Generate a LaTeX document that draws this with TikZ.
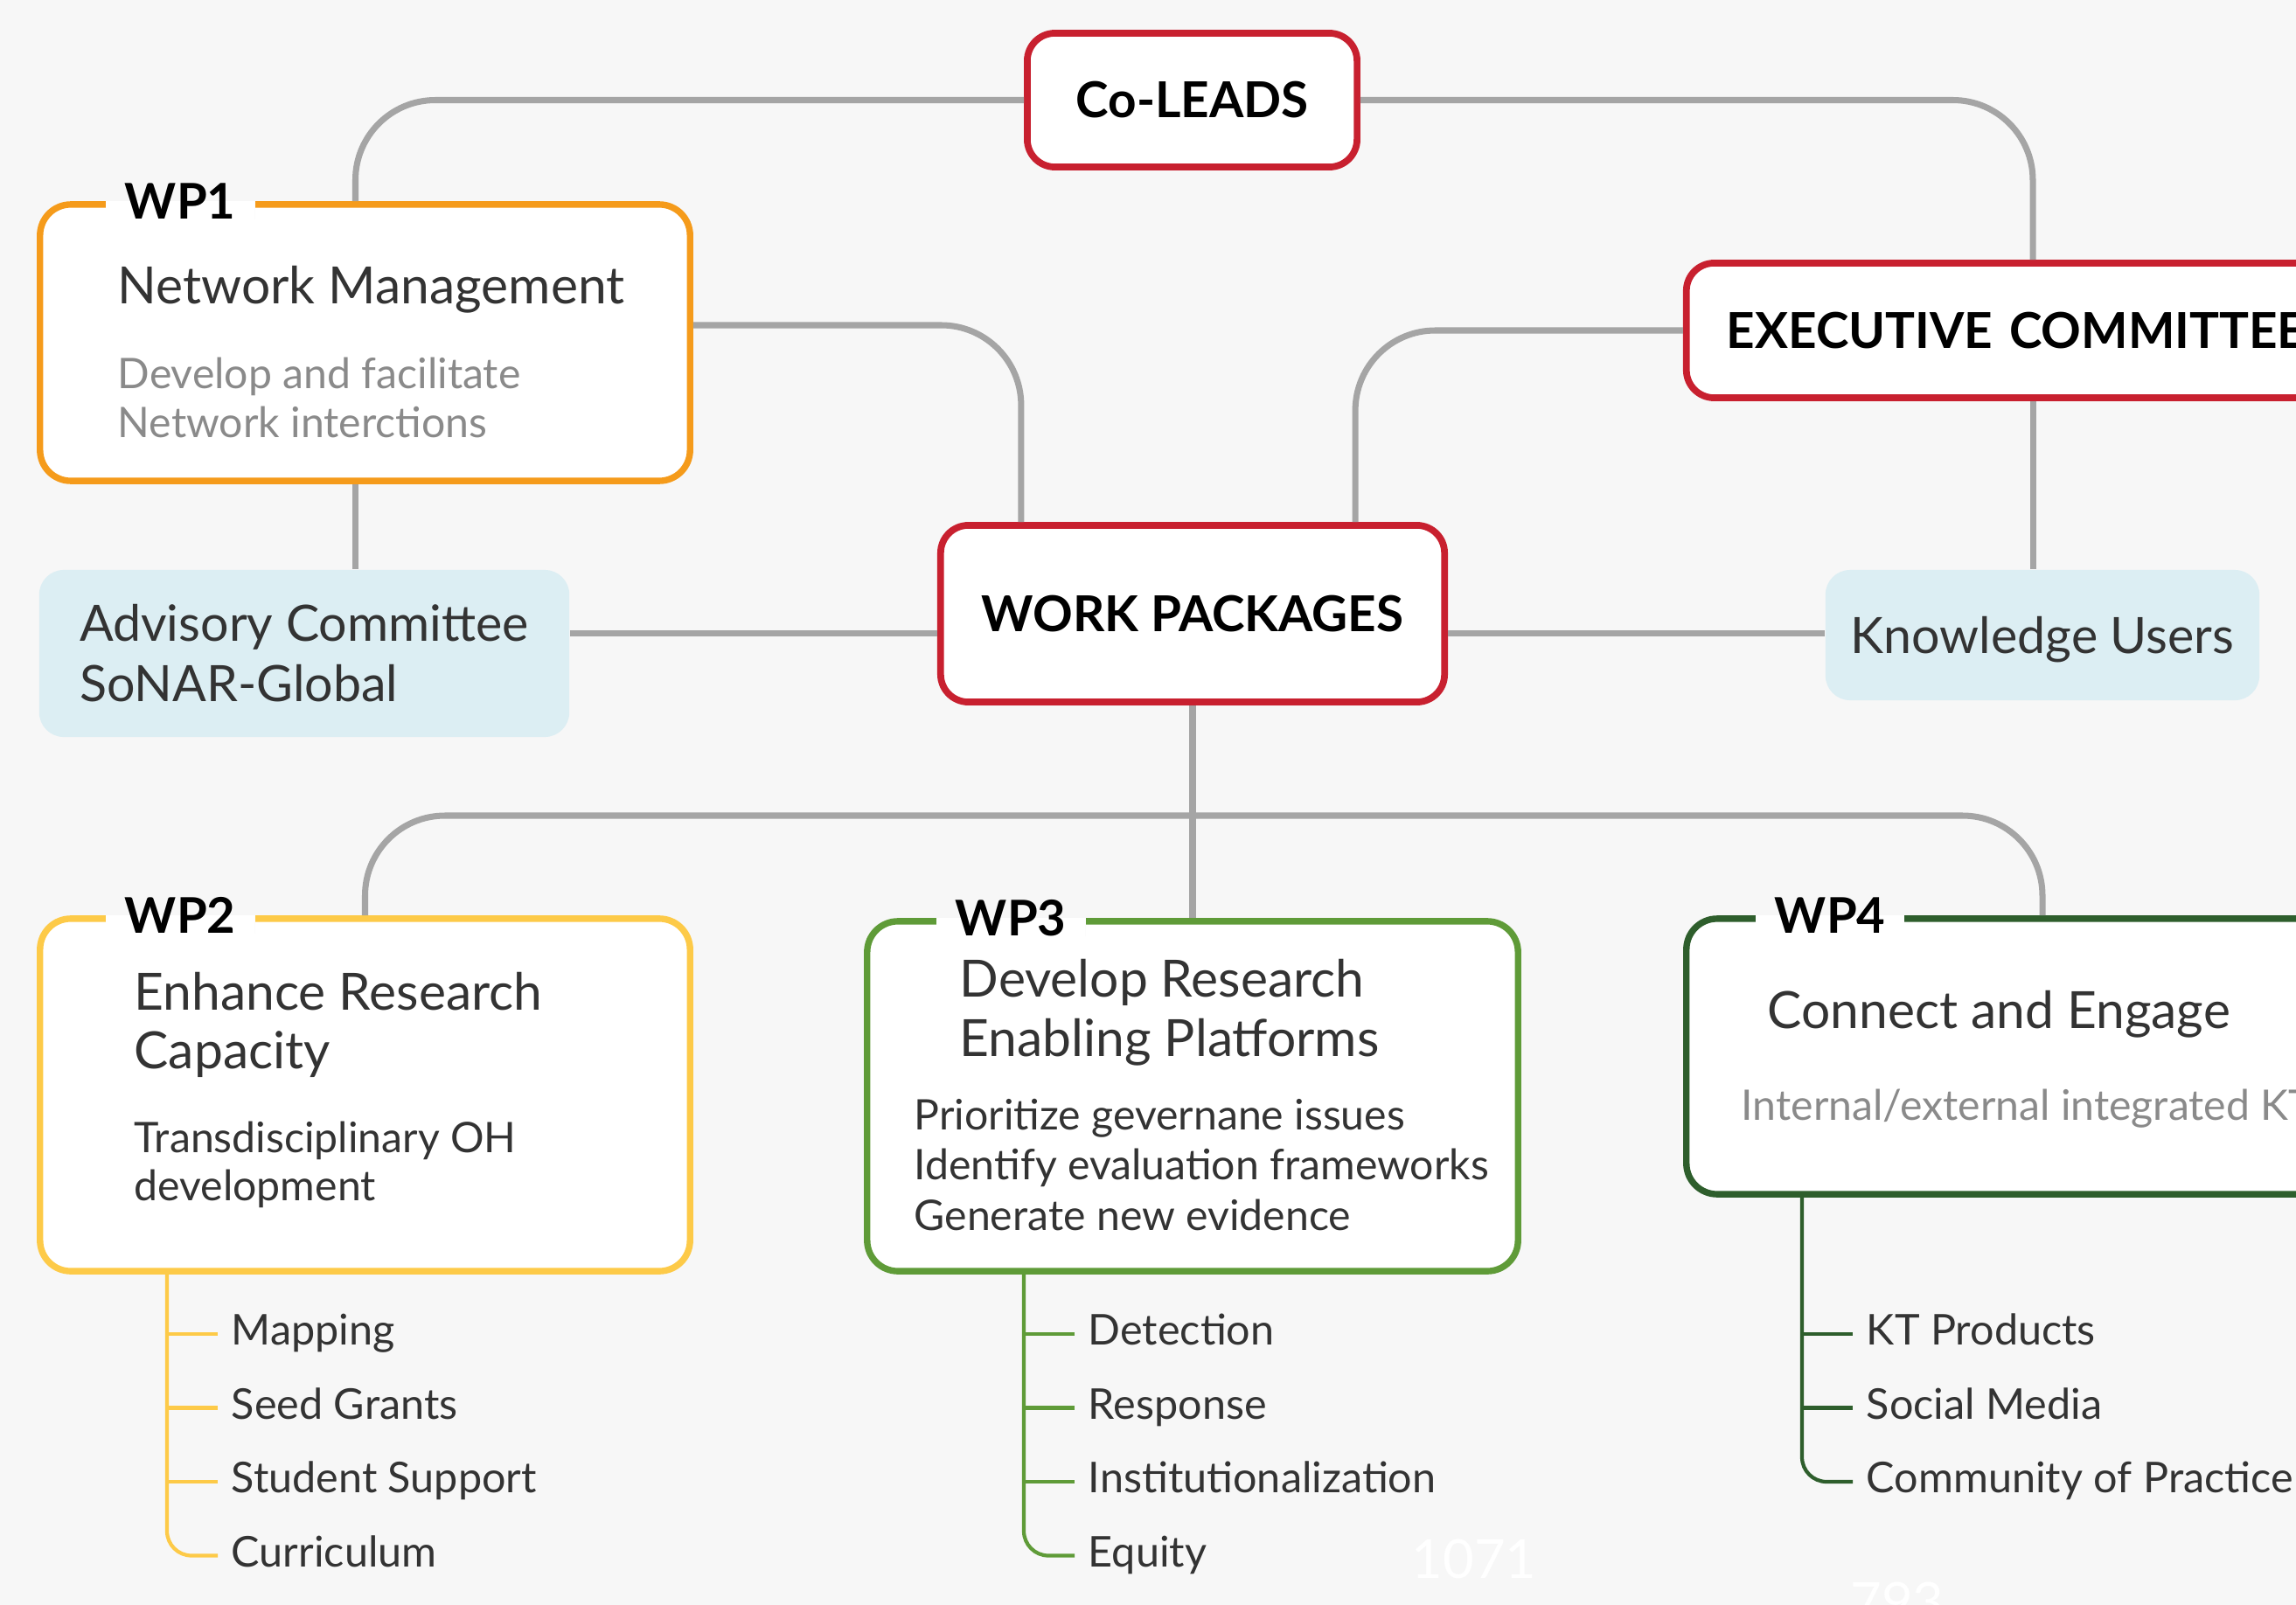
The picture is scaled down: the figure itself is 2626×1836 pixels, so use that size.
\documentclass[tikz,border=0pt]{standalone}
\usepackage{fontspec}
\setmainfont{Lato}
\usetikzlibrary{positioning}

\definecolor{leadred}{HTML}{C8202F}
\definecolor{wporange}{HTML}{F59B1B}
\definecolor{wpyellow}{HTML}{FDCA48}
\definecolor{wpgreen}{HTML}{5F9B38}
\definecolor{wpdark}{HTML}{2E5E2C}
\definecolor{linkgray}{HTML}{A5A5A5}
\definecolor{advblue}{HTML}{DCEEF3}
\definecolor{bgcol}{HTML}{F7F7F7}
\definecolor{txtdark}{HTML}{333333}
\definecolor{txtgray}{HTML}{8A8A8A}

\tikzset{
  leadbox/.style={draw=leadred, line width=2.2pt, fill=white, rounded corners=9pt,
    text=black, font=\fontsize{16.1}{19}\selectfont\bfseries},
  wpbox/.style={draw=#1, line width=2.1pt, fill=white, rounded corners=10pt},
  bluebox/.style={fill=advblue, rounded corners=8pt, text=txtdark,
    font=\fontsize{16.3}{19.6}\selectfont},
  wptag/.style={fill=bgcol, inner xsep=0.22cm, inner ysep=0pt, text=black,
    font=\fontsize{16}{19}\selectfont\bfseries,
    path picture={\fill[white] (path picture bounding box.west) rectangle (path picture bounding box.south east);}},
  wptitle/.style={anchor=base west, inner sep=0pt, text=txtdark, font=\fontsize{16.7}{20}\selectfont},
  wpnote/.style={anchor=base west, inner sep=0pt, text=#1, font=\fontsize{13.7}{17}\selectfont},
  wpnote/.default=txtdark,
  item/.style={anchor=west, inner xsep=4.3pt, inner ysep=0pt, text height=10pt, text depth=2.7pt,
    text=txtdark, font=\fontsize{13.8}{17}\selectfont},
  link/.style={draw=linkgray, line width=2pt, rounded corners=26pt},
  sublink/.style={draw=#1, line width=1.2pt, rounded corners=8pt},
  ghost/.style={text=white, font=\fontsize{17.5}{20}\selectfont}
}

\begin{document}
\begin{tikzpicture}[x=0.01cm, y=-0.01cm]
  \useasboundingbox (0,0) rectangle (2626,1836);
  \clip (0,0) rectangle (2626,1836);
  \fill[bgcol] (0,0) rectangle (2626,1836);

  % top level
  \node[leadbox, minimum width=3.77cm, minimum height=1.53cm] (colead) at (1363.5,114.5) {Co-LEADS};
  \node[leadbox, minimum width=7.92cm, minimum height=1.54cm, text width=7.0cm, align=left,
    inner xsep=0.46cm] (exec) at (2325,378) {EXECUTIVE COMMITTEE};
  \node[leadbox, minimum width=5.76cm, minimum height=2.02cm] (wp) at (1364,702) {WORK PACKAGES};
  \node[bluebox, minimum width=6.06cm, minimum height=1.91cm, align=left] (adv) at (348,747.5)
    {Advisory Committee\\SoNAR-Global};
  \node[bluebox, minimum width=4.96cm, minimum height=1.49cm, text depth=0pt] (ku) at (2336,726.5)
    {Knowledge Users};

  % work package boxes
  \node[wpbox=wporange, minimum width=7.43cm, minimum height=3.16cm] (wp1) at (417.5,392) {};
  \node[wpbox=wpyellow, minimum width=7.43cm, minimum height=4.03cm] (wp2) at (417.5,1252.5) {};
  \node[wpbox=wpgreen, minimum width=7.44cm, minimum height=4.0cm] (wp3) at (1364,1254) {};
  \node[wpbox=wpdark, minimum width=8.14cm, minimum height=3.15cm] (wp4) at (2336,1208.5) {};

  \node[wptag] (wp1tag) at ([xshift=1.64cm]wp1.north west) {WP1};
  \node[wptag] (wp2tag) at ([xshift=1.64cm]wp2.north west) {WP2};
  \node[wptag] (wp3tag) at ([xshift=1.68cm]wp3.north west) {WP3};
  \node[wptag] (wp4tag) at ([xshift=1.68cm]wp4.north west) {WP4};

  \node[wptitle] (wp1t1) at (134,347) {Network Management};
  \node[wpnote=txtgray] (wp1n1) at (134,444) {Develop and facilitate};
  \node[wpnote=txtgray] (wp1n2) at (134,500) {Network interctions};

  \node[wptitle] (wp2t1) at (153,1155) {Enhance Research};
  \node[wptitle] (wp2t2) at (153,1222) {Capacity};
  \node[wpnote] (wp2n1) at (153,1318) {Transdisciplinary OH};
  \node[wpnote] (wp2n2) at (153,1373) {development};

  \node[wptitle] (wp3t1) at (1097,1140) {Develop Research};
  \node[wptitle] (wp3t2) at (1097,1208) {Enabling Platforms};
  \foreach \t [count=\i] in {Prioritize gevernane issues, Identify evaluation frameworks, Generate new evidence}
    \node[wpnote] (wp3n\i) at (1045,{1292+57.5*(\i-1)}) {\t};

  \node[wptitle] (wp4t1) at (2021,1176) {Connect and Engage};
  \node[wpnote=txtgray] (wp4n1) at (1991,1281) {Internal/external integrated KT};

  % connectors
  \coordinate (bar) at (1364,933);
  \draw[link] (colead.west) -| ([xshift=-0.11cm]wp1.north);
  \draw[link] (colead.east) -| (exec.north);
  \draw[link] ([yshift=0.2cm]wp1.east) -| ([xshift=-1.96cm]wp.north);
  \draw[link] (exec.west) -| ([xshift=1.86cm]wp.north);
  \draw[link] ([xshift=-0.11cm]wp1.south) -- ([xshift=-0.11cm]wp1.south |- adv.north);
  \draw[link] (exec.south) -- (exec.south |- ku.north);
  \draw[link] ([yshift=-0.22cm]wp.west) -- ([yshift=-0.22cm]wp.west -| adv.east);
  \draw[link] ([yshift=-0.22cm]wp.east) -- ([yshift=-0.22cm]wp.east -| ku.west);
  \draw[link] (wp.south) -- (wp3.north);
  \draw[link] (wp2.north) |- (bar) -| (wp4.north);

  % sub lists
  \foreach \t [count=\i] in {Mapping, Seed Grants, Student Support, Curriculum}
    \node[item] (wp2i\i) at (249,{1526+84.5*(\i-1)}) {\t};
  \coordinate (wp2root) at (191,1452);
  \draw[sublink=wpyellow] (wp2root) |- (wp2i4.west);
  \foreach \i in {1,2,3}
    \draw[sublink=wpyellow] (wp2root |- wp2i\i.west) -- (wp2i\i.west);

  \foreach \t [count=\i] in {Detection, Response, Institutionalization, Equity}
    \node[item] (wp3i\i) at (1229,{1526+84.5*(\i-1)}) {\t};
  \coordinate (wp3root) at (1171,1452);
  \draw[sublink=wpgreen] (wp3root) |- (wp3i4.west);
  \foreach \i in {1,2,3}
    \draw[sublink=wpgreen] (wp3root |- wp3i\i.west) -- (wp3i\i.west);

  \foreach \t [count=\i] in {KT Products, Social Media, Community of Practice}
    \node[item] (wp4i\i) at (2119,{1526+84.5*(\i-1)}) {\t};
  \coordinate (wp4root) at (2061,1364);
  \draw[sublink=wpdark] (wp4root) |- (wp4i3.west);
  \foreach \i in {1,2}
    \draw[sublink=wpdark] (wp4root |- wp4i\i.west) -- (wp4i\i.west);

  \node[ghost] (num1) at (1686,1783) {1071};
  \node[ghost] (num2) at (2170,1832) {793};
\end{tikzpicture}
\end{document}
